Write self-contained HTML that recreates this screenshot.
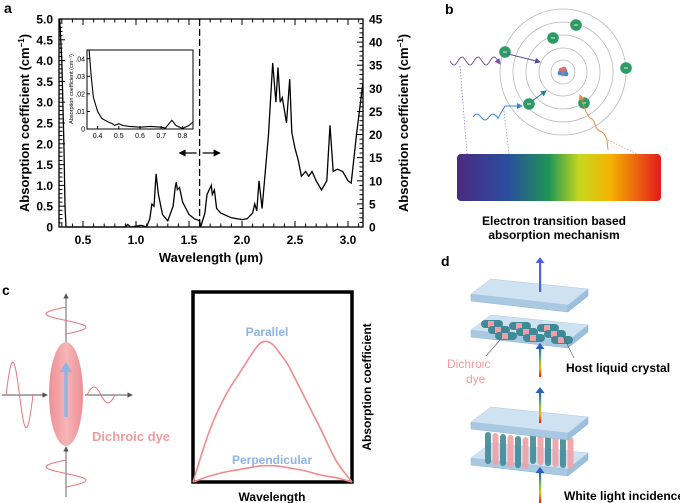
<!DOCTYPE html>
<html><head><meta charset="utf-8"><style>
body{margin:0;background:#fff;}
svg{display:block;font-family:"Liberation Sans",Arial,sans-serif;}
.b{font-weight:bold;}
</style></head><body>
<svg id="fig" width="680" height="503" viewBox="0 0 680 503">
<defs>
<linearGradient id="spec" x1="0" x2="1" y1="0" y2="0">
<stop offset="0" stop-color="#4a2a80"/><stop offset="0.25" stop-color="#2a4e9e"/><stop offset="0.45" stop-color="#1f9557"/><stop offset="0.6" stop-color="#c6d81f"/><stop offset="0.75" stop-color="#f4b400"/><stop offset="1" stop-color="#e31a1c"/>
</linearGradient>
<linearGradient id="ell" x1="0" x2="1"><stop offset="0" stop-color="#ee8f95"/><stop offset="0.5" stop-color="#f6b5b8"/><stop offset="1" stop-color="#ee8f95"/></linearGradient>
<linearGradient id="rain" x1="0" x2="0" y1="1" y2="0"><stop offset="0" stop-color="#e31a1c"/><stop offset="0.3" stop-color="#f4b400"/><stop offset="0.55" stop-color="#7cc53f"/><stop offset="1" stop-color="#2a5fc0"/></linearGradient>
<marker id="ah" markerWidth="6" markerHeight="6" refX="5" refY="3" orient="auto"><path d="M0,0L6,3L0,6z" fill="context-stroke"/></marker>
</defs>
<g id="panelA"></g>
<g id="panelB"></g>
<g id="panelC"></g>
<g id="panelD"></g>
</svg>
<script>
// ---- Panel a data ----
const leftWl = [0.28,0.30,0.32,0.33,0.34,0.90,0.92,0.95,1.00,1.05,1.10,1.13,1.15,1.17,1.19,1.21,1.25,1.30,1.35,1.37,1.38,1.39,1.41,1.44,1.50,1.55,1.60];
const leftVal = [5,4,2,0.5,0,0,0.06,0,0.02,0.04,0,0.2,0.55,0.5,1.28,0.8,0.3,0.15,0.5,0.95,1.08,0.9,0.95,0.6,0.3,0.2,0.15];
const rightWl = [1.60,1.61,1.65,1.67,1.69,1.71,1.72,1.74,1.76,1.80,1.90,2.00,2.05,2.10,2.12,2.14,2.16,2.19,2.25,2.29,2.32,2.34,2.36,2.38,2.42,2.45,2.47,2.50,2.53,2.56,2.60,2.63,2.66,2.70,2.75,2.80,2.83,2.86,2.90,2.95,3.00,3.03,3.08,3.14];
const rightVal = [1.4,0,3,7,8,9,7,8,4,3,2,1.6,1.8,3,5,3.5,10,4,20,35.5,27,34.5,27,28,22.5,32,20.5,17,14.5,11,12,11,12,10,8,10,22,12,12.5,12,10,9.5,20,31];
const insetWl = [0.36,0.37,0.38,0.40,0.42,0.45,0.47,0.48,0.50,0.52,0.55,0.60,0.65,0.70,0.72,0.75,0.77,0.80,0.83,0.85];
const insetVal = [0.045,0.03,0.018,0.01,0.006,0.004,0.003,0.002,0.003,0.002,0.0015,0.001,0.0015,0.001,0.0005,0.005,0.002,0.0003,0.002,0.004];
const xTicks = ["0.5","1.0","1.5","2.0","2.5","3.0"];
const yLeftTicks = ["0","0.5","1.0","1.5","2.0","2.5","3.0","3.5","4.0","4.5","5.0"];
const yRightTicks = ["0","5","10","15","20","25","30","35","40","45"];
const insetXTicks = ["0.4","0.5","0.6","0.7","0.8"];
const insetYTicks = ["0",".01",".02",".03",".04"];
// ---- Panel c data ----
const cWl = [0,0.1,0.2,0.3,0.4,0.45,0.5,0.55,0.6,0.7,0.8,0.9,1];
const parallelVal = [0,0.35,0.6,0.78,0.95,0.99,0.97,0.9,0.82,0.6,0.38,0.15,0];
const perpVal = [0,0.04,0.07,0.09,0.11,0.115,0.115,0.11,0.1,0.08,0.05,0.03,0];

const NS="http://www.w3.org/2000/svg";
function mk(tag,attrs,parent,text){const e=document.createElementNS(NS,tag);for(const k in attrs)e.setAttribute(k,attrs[k]);if(text!==undefined)e.textContent=text;parent.appendChild(e);return e;}

// ===== Panel a =====
const A=document.getElementById('panelA');
const X0=59,X1=363,Y0=227,Y1=19;
const xs=v=>83+(v-0.5)*106;
const yl=v=>Y0-(v/5)*(Y0-Y1);
const yr=v=>Y0-(v/45)*(Y0-Y1);
let t=mk('text',{x:4,y:13,'font-size':14,class:'b'},A,'a');

let fr=mk('rect',{x:X0,y:Y1,width:X1-X0,height:Y0-Y1,fill:'none',stroke:'#000','stroke-width':1.3},A);

for(let i=3;i<=31;i++){const v=i/10,x=xs(v);const maj=(i%5===0);
 mk('line',{x1:x,x2:x,y1:Y0,y2:Y0-(maj?6:3.5),stroke:'#000','stroke-width':1},A);
 mk('line',{x1:x,x2:x,y1:Y1,y2:Y1+(maj?6:3.5),stroke:'#000','stroke-width':1},A);}
xTicks.forEach(s=>{const e=mk('text',{x:xs(parseFloat(s)),y:244,'font-size':12,'text-anchor':'middle',class:'b'},A,s);
 });
for(let i=0;i<=50;i++){const y=yl(i/10);const maj=i%5===0;mk('line',{x1:X0,x2:X0+(maj?6:3.5),y1:y,y2:y,stroke:'#000','stroke-width':1},A);}
yLeftTicks.forEach(s=>{const e=mk('text',{x:53,y:yl(parseFloat(s))+4.5,'font-size':12,'text-anchor':'end',class:'b'},A,s);
 });
for(let i=0;i<=45;i++){const y=yr(i);const maj=i%5===0;mk('line',{x1:X1,x2:X1-(maj?6:3.5),y1:y,y2:y,stroke:'#000','stroke-width':1},A);}
yRightTicks.forEach(s=>{const e=mk('text',{x:369,y:yr(parseFloat(s))+4.5,'font-size':12,class:'b'},A,s);
 });
t=mk('text',{x:0,y:0,'font-size':13,'text-anchor':'middle',class:'b',transform:'translate(29,123) rotate(-90)'},A);
t.innerHTML='Absorption coefficient (cm<tspan dy="-5" font-size="8">−1</tspan><tspan dy="5">)</tspan>';

t=mk('text',{x:0,y:0,'font-size':13,'text-anchor':'middle',class:'b',transform:'translate(408,123) rotate(-90)'},A);
t.innerHTML='Absorption coefficient (cm<tspan dy="-5" font-size="8">−1</tspan><tspan dy="5">)</tspan>';

t=mk('text',{x:211,y:262,'font-size':13,'text-anchor':'middle',class:'b'},A,'Wavelength (μm)');

let d=leftWl.map((w,i)=>(i?'L':'M')+Math.max(X0,xs(w)).toFixed(1)+','+yl(leftVal[i]).toFixed(1)).join('');
let p=mk('path',{d:d,fill:'none',stroke:'#000','stroke-width':1.3},A);

d=rightWl.map((w,i)=>(i?'L':'M')+Math.min(X1,xs(w)).toFixed(1)+','+yr(rightVal[i]).toFixed(1)).join('');
p=mk('path',{d:d,fill:'none',stroke:'#000','stroke-width':1.3},A);

let dl=mk('line',{x1:xs(1.6),x2:xs(1.6),y1:Y1,y2:Y0,stroke:'#000','stroke-width':1.3,'stroke-dasharray':'7,3'},A);

let ar=mk('line',{x1:xs(1.6)-3,x2:xs(1.6)-20,y1:153,y2:153,stroke:'#000','stroke-width':1.2,'marker-end':'url(#ah)'},A);

ar=mk('line',{x1:xs(1.6)+3,x2:xs(1.6)+20,y1:153,y2:153,stroke:'#000','stroke-width':1.2,'marker-end':'url(#ah)'},A);

const IX0=87,IX1=193,IY0=129,IY1=50;
const ix=v=>IX0+(v-0.35)/0.5*(IX1-IX0), iy=v=>IY0-v/0.045*(IY0-IY1);
let ib=mk('rect',{x:IX0,y:IY1,width:IX1-IX0,height:IY0-IY1,fill:'#fff',stroke:'#000','stroke-width':1},A);

insetXTicks.forEach(s=>{const x=ix(parseFloat(s));mk('line',{x1:x,x2:x,y1:IY0,y2:IY0-3,stroke:'#000'},A);
 const e=mk('text',{x:x,y:IY0+9,'font-size':7,'text-anchor':'middle'},A,s);});
insetYTicks.forEach(s=>{const y=iy(parseFloat(s));mk('line',{x1:IX0,x2:IX0+3,y1:y,y2:y,stroke:'#000'},A);
 const e=mk('text',{x:IX0-2,y:y+2.5,'font-size':7,'text-anchor':'end'},A,s);});
t=mk('text',{x:0,y:0,'font-size':5.5,'text-anchor':'middle',transform:'translate(73,89) rotate(-90)'},A,'Absorption coefficient (cm⁻¹)');

d=insetWl.map((w,i)=>(i?'L':'M')+ix(w).toFixed(1)+','+Math.max(IY1,iy(insetVal[i])).toFixed(1)).join('');
p=mk('path',{d:d,fill:'none',stroke:'#000','stroke-width':1.1},A);


// ===== Panel b =====
const B=document.getElementById('panelB');
t=mk('text',{x:445,y:14,'font-size':14,class:'b'},B,'b');
const cx=563,cy=72;
[12,24,37,50,63].forEach(r=>{const c=mk('circle',{cx:cx,cy:cy,r:r,fill:'none',stroke:'#b8b8b8','stroke-width':0.8},B);});
let nu=mk('g',{},B);
[[-2,-2,'#e07070'],[2,-1,'#3a8fd0'],[0,2,'#e07070'],[-3,1,'#3a8fd0'],[3,2,'#3a8fd0'],[1,-3,'#e07070']].forEach(q=>mk('circle',{cx:cx+q[0],cy:cy+q[1],r:2.4,fill:q[2]},nu));
[[505,52],[553,38],[576,25],[626,68],[529,104],[584,103]].forEach(q=>{const g=mk('g',{},B);
 mk('circle',{cx:q[0],cy:q[1],r:5.8,fill:'#2e9a66'},g);mk('line',{x1:q[0]-2,x2:q[0]+2,y1:q[1],y2:q[1],stroke:'#fff','stroke-width':0.8},g);});
function wave(x0,y0,x1,amp,per){let s='M'+x0+','+y0;for(let x=x0;x<=x1;x+=1)s+='L'+x+','+(y0+amp*Math.sin((x-x0)/per*2*Math.PI)).toFixed(1);return s;}
p=mk('path',{d:wave(450,61,500,4,16),fill:'none',stroke:'#7b4fa8','stroke-width':1,'marker-end':'url(#ah)'},B);
p=mk('line',{x1:508,y1:54,x2:540,y2:62,stroke:'#5a4a9c','stroke-width':1,'marker-end':'url(#ah)'},B);
p=mk('path',{d:wave(473,117,498,-3,16)+'L505,106L522,106',fill:'none',stroke:'#3b86c8','stroke-width':1,'marker-end':'url(#ah)'},B);
p=mk('line',{x1:532,y1:101,x2:546,y2:91,stroke:'#2a7aa0','stroke-width':1,'marker-end':'url(#ah)'},B);
p=mk('path',{d:'M608,150L607,140C604,132 602,132 598,130C594,126 596,120 590,118L586,112L580,95',fill:'none',stroke:'#f08a40','stroke-width':1,'marker-end':'url(#ah)'},B);
[['460,66 467,154','#9b7fc4'],['504,111 509,154','#7fb0e0'],['608,140 637,154','#f5a070']].forEach(q=>{const l=mk('polyline',{points:q[0],fill:'none',stroke:q[1],'stroke-width':0.8,'stroke-dasharray':'1.5,1.5'},B);});
let sp=mk('rect',{x:457,y:154,width:204,height:47,rx:4,fill:'url(#spec)'},B);
t=mk('text',{x:554,y:225,'font-size':12,'text-anchor':'middle',class:'b'},B,'Electron transition based');
t=mk('text',{x:554,y:239,'font-size':12,'text-anchor':'middle',class:'b'},B,'absorption mechanism');

// ===== Panel c =====
const C=document.getElementById('panelC');
t=mk('text',{x:2,y:295,'font-size':14,class:'b'},C,'c');
const ax=(x1,y1,x2,y2,n)=>{const l=mk('line',{x1,y1,x2,y2,stroke:'#555','stroke-width':0.9,'marker-end':'url(#ah)'},C);};
ax(66,342,66,294,'top-axis');ax(66,497,66,447,'bottom-axis');ax(2,395,47,395,'left-axis');ax(85,395,132,395,'right-axis');
function vwave(x,y0,y1,amp){let s='';for(let y=y0;y<=y1;y++)s+=(y===y0?'M':'L')+(x-amp*Math.sin((y-y0)/(y1-y0)*2*Math.PI)).toFixed(1)+','+y;return s;}
function hwave(y,x0,x1,amp){let s='';for(let x=x0;x<=x1;x++)s+=(x===x0?'M':'L')+x+','+(y-amp*Math.sin((x-x0)/(x1-x0)*2*Math.PI)).toFixed(1);return s;}
[[vwave(66,307,334,20),'top-wave'],[vwave(66,460,487,20),'bottom-wave'],[hwave(395,6,33,33),'left-wave'],[hwave(395,87,115,8),'right-wave']].forEach(q=>{const e=mk('path',{d:q[0],fill:'none',stroke:'#e5777c','stroke-width':1},C);});
let el=mk('ellipse',{cx:66,cy:394,rx:17,ry:52,fill:'url(#ell)'},C);
el=mk('line',{x1:66,y1:417,x2:66,y2:370,stroke:'#8fb4e3','stroke-width':3.5},C);
mk('path',{d:'M60,372L66,362L72,372z',fill:'#8fb4e3'},C);
t=mk('text',{x:92,y:441,'font-size':13,fill:'#f29aa0',class:'b'},C,'Dichroic dye');
const BX0=193,BX1=352,BY0=482,BY1=292;
el=mk('rect',{x:BX0,y:BY1,width:BX1-BX0,height:BY0-BY1,fill:'none',stroke:'#000','stroke-width':3.5},C);
const cxs=v=>BX0+v*(BX1-BX0), cys=v=>BY0-v*(BY0-340);
function smooth(vals){const pts=cWl.map((w,i)=>[cxs(w),cys(vals[i])]);let s='M'+pts[0][0]+','+pts[0][1];
 for(let i=0;i<pts.length-1;i++){const p0=pts[Math.max(0,i-1)],p1=pts[i],p2=pts[i+1],p3=pts[Math.min(pts.length-1,i+2)];
 s+='C'+(p1[0]+(p2[0]-p0[0])/6).toFixed(1)+','+(p1[1]+(p2[1]-p0[1])/6).toFixed(1)+' '+(p2[0]-(p3[0]-p1[0])/6).toFixed(1)+','+(p2[1]-(p3[1]-p1[1])/6).toFixed(1)+' '+p2[0].toFixed(1)+','+p2[1].toFixed(1);}return s;}
el=mk('path',{d:smooth(parallelVal),fill:'none',stroke:'#ef8a8e','stroke-width':1.6},C);
el=mk('path',{d:smooth(perpVal),fill:'none',stroke:'#ef8a8e','stroke-width':1.6},C);
t=mk('text',{x:267,y:336,'font-size':12,'text-anchor':'middle',fill:'#8fb4e3',class:'b'},C,'Parallel');
t=mk('text',{x:272,y:464,'font-size':12,'text-anchor':'middle',fill:'#8fb4e3',class:'b'},C,'Perpendicular');
t=mk('text',{x:272,y:501,'font-size':12,'text-anchor':'middle',class:'b'},C,'Wavelength');
t=mk('text',{x:0,y:0,'font-size':12,'text-anchor':'middle',class:'b',transform:'translate(371,387) rotate(-90)'},C,'Absorption coefficient');

// ===== Panel d =====
const D=document.getElementById('panelD');
t=mk('text',{x:441,y:266,'font-size':14,class:'b'},D,'d');
function plate(dy,name){const g=mk('g',{},D);
 const L=[471,294+dy],Bk=[491,279+dy],R=[588,289+dy],F=[568,305+dy],h=7;
 mk('polygon',{points:`${L} ${F} ${F[0]},${F[1]+h} ${L[0]},${L[1]+h}`,fill:'#a9c9e3',stroke:'#8db3d3','stroke-width':0.5},g);
 mk('polygon',{points:`${F} ${R} ${R[0]},${R[1]+h} ${F[0]},${F[1]+h}`,fill:'#9cbfdc',stroke:'#8db3d3','stroke-width':0.5},g);
 mk('polygon',{points:`${L} ${Bk} ${R} ${F}`,fill:'#cfe2f2',stroke:'#a9c9e3','stroke-width':0.5},g);}
plate(36,'upper-cell-bottom-plate');
for(let r=0;r<3;r++)for(let c=0;c<3;c++){const x=481+c*28+r*7,y=320+c*2+r*6;
 const g=mk('g',{},D);
 mk('rect',{x:x,y:y,width:22,height:8,rx:4,fill:'#3f8a96'},g);mk('rect',{x:x+7,y:y+1,width:6,height:6,fill:'#f0a0a4'},g);}
plate(0,'upper-cell-top-plate');
plate(164,'lower-cell-bottom-plate');
for(let i=0;i<12;i++){const x=485+i*7.5,y=432+(i%6)*1;
 const g=mk('g',{},D);
 mk('rect',{x:x,y:y,width:6,height:32,rx:3,fill:i%2?'#f0a0a4':'#3f8a96',opacity:0.9},g);}
plate(128,'lower-cell-top-plate');
function arrow(y0,y1,fill,name){const g=mk('g',{},D);
 mk('rect',{x:539,y:y1+5,width:2.2,height:y0-y1-5,fill:fill},g);mk('path',{d:`M535.5,${y1+6}L540,${y1}L544.5,${y1+6}z`,fill:fill==='url(#rain)'?'#2a5fc0':fill},g);}
arrow(292,257,'#5060e0','output-blue-arrow');
arrow(377,343,'url(#rain)','upper-input-arrow');
arrow(423,387,'url(#rain)','middle-arrow');
arrow(503,467,'url(#rain)','bottom-input-arrow');
mk('line',{x1:500,y1:340,x2:486,y2:356,stroke:'#555','stroke-width':0.6},D);
mk('line',{x1:563,y1:336,x2:574,y2:358,stroke:'#555','stroke-width':0.6},D);
t=mk('text',{x:447,y:368,'font-size':12,fill:'#f29aa0'},D,'Dichroic');
mk('text',{x:466,y:383,'font-size':12,fill:'#f29aa0'},D,'dye');
t=mk('text',{x:566,y:372,'font-size':12,class:'b'},D,'Host liquid crystal');
t=mk('text',{x:564,y:500,'font-size':12,class:'b'},D,'White light incidence');
</script>
</body></html>
